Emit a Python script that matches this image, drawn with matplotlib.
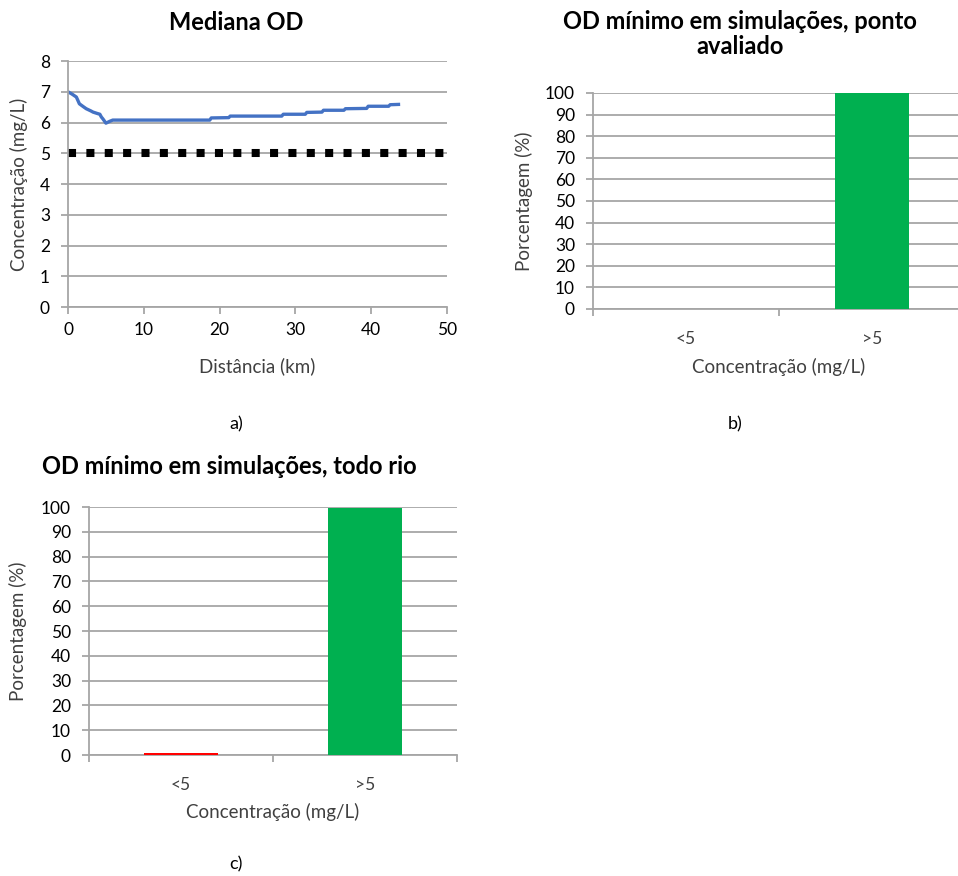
import numpy as np
import matplotlib
matplotlib.use("Agg")
import matplotlib.pyplot as plt

plt.rcParams["font.family"] = ["Lato", "DejaVu Sans"]

# ---------------------------------------------------------------
# Data
# ---------------------------------------------------------------
dist_km = [0.0, 0.5, 1.1, 1.5, 2.0, 2.4, 3.0, 3.3, 3.8, 4.2, 4.4, 4.6, 5.0,
           5.5, 5.9, 8.0, 12.0, 16.0, 18.7, 18.9, 21.2, 21.4, 25.0, 28.2,
           28.4, 31.3, 31.5, 33.5, 33.7, 36.4, 36.6, 39.4, 39.6, 42.3,
           42.5, 43.6]
od_median = [7.00, 6.93, 6.83, 6.61, 6.52, 6.45, 6.38, 6.34, 6.30, 6.27,
             6.18, 6.12, 5.98, 6.04, 6.08, 6.08, 6.08, 6.08, 6.08, 6.15,
             6.16, 6.21, 6.21, 6.21, 6.27, 6.27, 6.33, 6.34, 6.40, 6.40,
             6.45, 6.46, 6.53, 6.53, 6.58, 6.59]
od_limit = 5.0
limit_x = [0, 50]

categories = ["<5", ">5"]
pct_point = [0, 100]
pct_river = [1, 99.6]
bar_colors = ["#ff0000", "#00b050"]

GRID = "#a6a6a6"
TXT = "#404040"
TICK_FS = 12.5
LABEL_FS = 13.5
TITLE_FS = 17

fig = plt.figure(figsize=(9.58, 8.76), dpi=100)


def style_axes(ax):
    for s in ["top", "right"]:
        ax.spines[s].set_visible(False)
    for s in ["left", "bottom"]:
        ax.spines[s].set_color(GRID)
        ax.spines[s].set_linewidth(1.3)
    ax.yaxis.grid(True, color=GRID, linewidth=1.3)
    ax.set_axisbelow(True)
    ax.tick_params(colors=GRID, labelcolor="black", labelsize=TICK_FS,
                   length=5, width=1.3)
    ax.tick_params(axis="y", pad=8)


# ---------------------------------------------------------------
# a) median OD
# ---------------------------------------------------------------
ax1 = fig.add_axes([0.071, 0.6495, 0.3956, 0.2808])
style_axes(ax1)
ax1.plot(limit_x, [od_limit, od_limit], color="black", lw=5.8,
         linestyle=(0, (1, 1.28)), dash_capstyle="butt")
ax1.plot(dist_km, od_median, color="#4472c4", lw=2.4)
ax1.set_xlim(0, 50)
ax1.set_ylim(0, 8)
ax1.set_xticks(range(0, 51, 10))
ax1.set_yticks(range(0, 9))
ax1.tick_params(axis="x", pad=6)
ax1.set_xlabel("Distância (km)", fontsize=LABEL_FS, color=TXT)
ax1.set_ylabel("Concentração (mg/L)", fontsize=LABEL_FS, color=TXT)
ax1.xaxis.set_label_coords(0.5, -0.205)
ax1.yaxis.set_label_coords(-0.105, 0.5)
fig.text(236 / 958, 1 - 22 / 876, "Mediana OD", ha="center", va="center",
         fontsize=TITLE_FS, fontweight="bold")


# ---------------------------------------------------------------
# bar panels
# ---------------------------------------------------------------
def bar_panel(rect, values, xlab_y, ylab_x):
    ax = fig.add_axes(rect)
    style_axes(ax)
    x = np.arange(len(categories)) + 0.5
    ax.bar(x, values, width=0.4, color=bar_colors, zorder=3)
    ax.set_xlim(0, len(categories))
    ax.set_ylim(0, 100)
    ax.set_yticks(range(0, 101, 10))
    # category labels as major ticks (no mark), boundaries as minor ticks
    ax.set_xticks(x)
    ax.set_xticklabels(categories)
    ax.tick_params(axis="x", which="major", length=0, pad=16,
                   labelcolor=TXT)
    ax.set_xticks(np.arange(len(categories) + 1), minor=True)
    ax.tick_params(axis="x", which="minor", length=5, width=1.3,
                   colors=GRID)
    ax.set_xlabel("Concentração (mg/L)", fontsize=LABEL_FS, color=TXT)
    ax.set_ylabel("Porcentagem (%)", fontsize=LABEL_FS, color=TXT)
    ax.xaxis.set_label_coords(0.5, xlab_y)
    ax.yaxis.set_label_coords(ylab_x, 0.5)
    return ax


ax2 = bar_panel([0.619, 0.6473, 0.3883, 0.2466], pct_point, -0.225, -0.161)
fig.text(740 / 958, 1 - 34 / 876, "OD mínimo em simulações, ponto\navaliado",
         ha="center", va="center", fontsize=TITLE_FS, fontweight="bold",
         linespacing=1.15)

ax3 = bar_panel([0.0929, 0.1381, 0.3841, 0.2831], pct_river, -0.195, -0.168)
fig.text(229 / 958, 1 - 467 / 876, "OD mínimo em simulações, todo rio",
         ha="center", va="center", fontsize=TITLE_FS, fontweight="bold")

# panel letters
fig.text(236 / 958, 1 - 424 / 876, "a)", ha="center", va="center", fontsize=13)
fig.text(735 / 958, 1 - 424 / 876, "b)", ha="center", va="center", fontsize=13)
fig.text(236 / 958, 1 - 864 / 876, "c)", ha="center", va="center", fontsize=13)

fig.savefig("out.png", dpi=100)
